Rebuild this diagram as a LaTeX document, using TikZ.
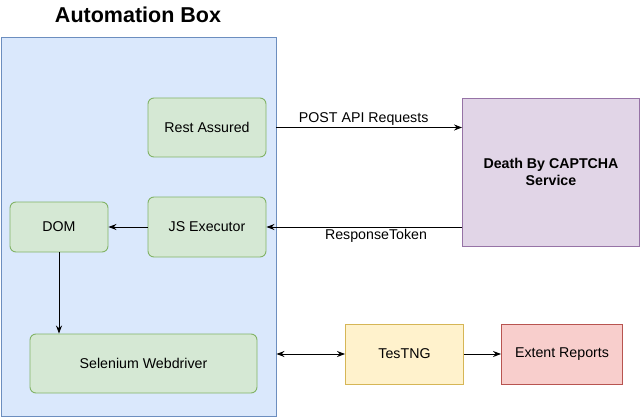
\documentclass[tikz,border=0pt]{standalone}
\usepackage{fontspec}
\setmainfont{Liberation Sans}
\usepackage{tikz}
\usetikzlibrary{arrows.meta}
\definecolor{bluefill}{HTML}{DAE8FC}
\definecolor{blueline}{HTML}{6C8EBF}
\definecolor{greenfill}{HTML}{D5E8D4}
\definecolor{greenline}{HTML}{82B366}
\definecolor{purplefill}{HTML}{E1D5E7}
\definecolor{purpleline}{HTML}{9673A6}
\definecolor{yellowfill}{HTML}{FFF2CC}
\definecolor{yellowline}{HTML}{D6B656}
\definecolor{redfill}{HTML}{F8CECC}
\definecolor{redline}{HTML}{B85450}

\begin{document}
\begin{tikzpicture}[x=1pt, y=-1pt]
\tikzstyle{comp}=[rectangle, rounded corners=6pt, draw=greenline, fill=greenfill, line width=0.9pt, inner sep=0pt, font=\fontsize{14.2}{17}\selectfont]
\tikzstyle{tool}=[rectangle, line width=0.9pt, inner sep=0pt, minimum width=118pt, minimum height=60pt, font=\fontsize{14.2}{17}\selectfont]
\tikzstyle{link}=[-{Stealth[length=8pt, width=6pt]}, line width=0.9pt]
\tikzstyle{tag}=[font=\fontsize{14.2}{17}\selectfont, inner sep=2pt]
\useasboundingbox (0,0) rectangle (640,417);
\node[draw=blueline, fill=bluefill, line width=0.9pt, minimum width=275pt, minimum height=379pt, inner sep=0pt] (box) at (138.5,226.5) {};
\node[font=\bfseries\fontsize{21.5}{24}\selectfont] (title) at (138,15) {Automation Box};
\node[comp, minimum width=118pt, minimum height=59pt] (rest) at (207,127.5) {Rest Assured};
\node[comp, minimum width=118pt, minimum height=60pt] (js) at (207,227) {JS Executor};
\node[comp, minimum width=98pt, minimum height=50pt] (dom) at (59,227) {DOM};
\node[comp, minimum width=227pt, minimum height=59pt] (sel) at (143.5,363.5) {Selenium Webdriver};
\node[tool, draw=purpleline, fill=purplefill, minimum width=177pt, minimum height=148pt, align=center, font=\bfseries\fontsize{14.2}{17}\selectfont] (captcha) at (551,172) {Death By CAPTCHA\\Service};
\node[tool, draw=yellowline, fill=yellowfill] (testng) at (404.5,354) {TesTNG};
\node[tool, draw=redline, fill=redfill, minimum width=121pt] (extent) at (562,354) {Extent Reports};

\draw[link] (box.east |- rest.east) -- node[tag, above, pos=0.47] {POST API Requests} (captcha.west |- rest.east);
\draw[link] (captcha.west |- js.east) -- node[tag, below, pos=0.44] {ResponseToken} (js.east);
\draw[link] (js.west) -- (dom.east);
\draw[link] (dom.south) -- (dom.south |- sel.north);
\draw[link, {Stealth[length=8pt, width=6pt]}-{Stealth[length=8pt, width=6pt]}] (box.east |- testng.west) -- (testng.west);
\draw[link] (testng.east) -- (extent.west);

\end{tikzpicture}
\end{document}
